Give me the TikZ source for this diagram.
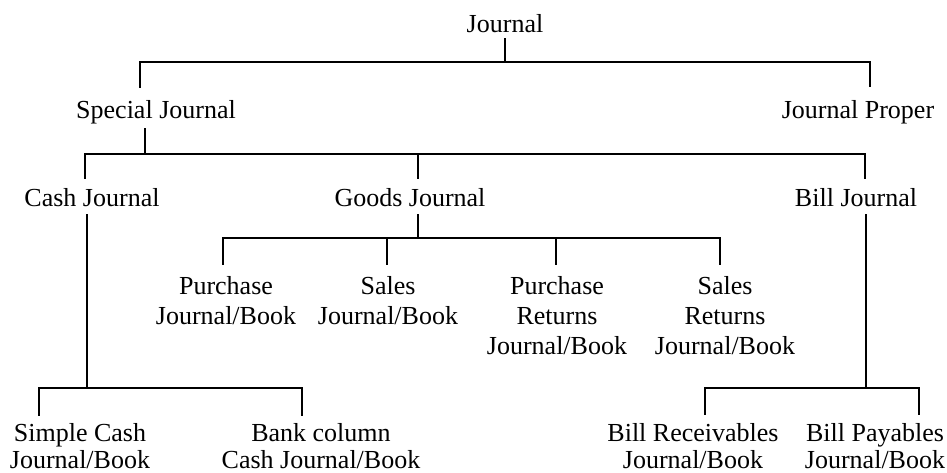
\documentclass[tikz,border=0pt]{standalone}
\usepackage{fontspec}
\setmainfont{Liberation Serif}
\newcommand{\mlines}[1]{\begin{tabular}[t]{@{}c@{}}#1\end{tabular}}
\begin{document}
\begin{tikzpicture}[x=1pt,y=-1pt,
  lab/.style={inner sep=0pt, anchor=base, font=\fontsize{26}{30}\selectfont},
  lowlab/.style={lab, font=\fontsize{26}{27}\selectfont},
  conn/.style={line width=1.6pt, line cap=rect}]
\useasboundingbox (0,0) rectangle (947,472);
\renewcommand{\arraystretch}{1}
% nodes
\node[lab] (journal) at (505,32) {Journal};
\node[lab] (special) at (156,118) {Special Journal};
\node[lab] (proper) at (858,118) {Journal Proper};
\node[lab] (cash) at (92,206) {Cash Journal};
\node[lab] (goods) at (410,206) {Goods Journal};
\node[lab] (bill) at (856,206) {Bill Journal};
\node[lab] (pj) at (226,294) {\mlines{Purchase\\Journal/Book}};
\node[lab] (sj) at (388,294) {\mlines{Sales\\Journal/Book}};
\node[lab] (prj) at (557,294) {\mlines{Purchase\\Returns\\Journal/Book}};
\node[lab] (srj) at (725,294) {\mlines{Sales\\Returns\\Journal/Book}};
\node[lowlab] (sc) at (80,441) {\mlines{Simple Cash\\Journal/Book}};
\node[lowlab] (bank) at (321,441) {\mlines{Bank column\\Cash Journal/Book}};
\node[lowlab] (br) at (693,441) {\mlines{Bill Receivables\\Journal/Book}};
\node[lowlab] (bp) at (875,441) {\mlines{Bill Payables\\Journal/Book}};
% junction coordinates
\coordinate (j-top) at (505,39);
\coordinate (j-bar) at (505,62);
\coordinate (j-l) at (140,62);
\coordinate (j-r) at (870,62);
\coordinate (sp-end) at (140,87);
\coordinate (pr-end) at (870,86);
\coordinate (s-top) at (145,129);
\coordinate (s-bar) at (145,154);
\coordinate (s-l) at (85,154);
\coordinate (s-m) at (418,154);
\coordinate (s-r) at (865,154);
\coordinate (ca-end) at (85,178);
\coordinate (go-end) at (418,178);
\coordinate (bi-end) at (865,178);
\coordinate (c-top) at (87,215);
\coordinate (c-bar) at (87,388);
\coordinate (c-l) at (39,388);
\coordinate (c-r) at (302,388);
\coordinate (sc-end) at (39,415);
\coordinate (ba-end) at (302,415);
\coordinate (g-top) at (418,215);
\coordinate (g-bar) at (418,238);
\coordinate (g-1) at (223,238);
\coordinate (g-2) at (387,238);
\coordinate (g-3) at (556,238);
\coordinate (g-4) at (720,238);
\coordinate (pj-end) at (223,264);
\coordinate (sj-end) at (387,264);
\coordinate (prj-end) at (556,264);
\coordinate (srj-end) at (720,264);
\coordinate (b-top) at (866,215);
\coordinate (b-bar) at (866,388);
\coordinate (b-l) at (705,388);
\coordinate (b-r) at (919,388);
\coordinate (br-end) at (705,414);
\coordinate (bp-end) at (919,414);
% connectors
\draw[conn] (j-top) -- (j-bar);
\draw[conn] (sp-end) -- (j-l) -- (j-r) -- (pr-end);
\draw[conn] (s-top) -- (s-bar);
\draw[conn] (ca-end) -- (s-l) -- (s-r) -- (bi-end);
\draw[conn] (s-m) -- (go-end);
\draw[conn] (c-top) -- (c-bar);
\draw[conn] (sc-end) -- (c-l) -- (c-r) -- (ba-end);
\draw[conn] (g-top) -- (g-bar);
\draw[conn] (pj-end) -- (g-1) -- (g-4) -- (srj-end);
\draw[conn] (g-2) -- (sj-end);
\draw[conn] (g-3) -- (prj-end);
\draw[conn] (b-top) -- (b-bar);
\draw[conn] (br-end) -- (b-l) -- (b-r) -- (bp-end);
\end{tikzpicture}
\end{document}
